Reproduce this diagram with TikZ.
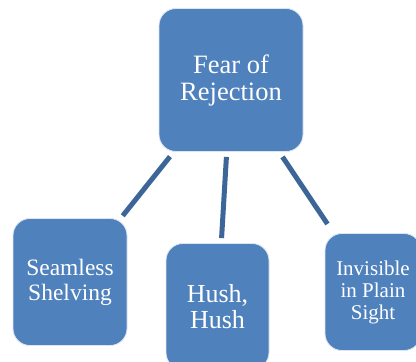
\documentclass[tikz,border=0pt]{standalone}
\usepackage{fontspec}
\setmainfont{Liberation Serif}
\usepackage{tikz}
\usepackage{xcolor}
\usetikzlibrary{positioning,calc}

\definecolor{boxblue}{HTML}{4F81BD}
\definecolor{lineblue}{HTML}{3D6698}

\begin{document}
\begin{tikzpicture}[
    x=1pt, y=-1pt,
    box/.style={draw=white!80!boxblue, line width=0.8pt, fill=boxblue, rounded corners=17pt,
      text=white, align=center, inner sep=2pt},
    link/.style={draw=lineblue, line width=5pt}
  ]
    \useasboundingbox (0,0) rectangle (416,362);
    \clip (0,0) rectangle (416,362);

    \node[box, minimum width=144pt, minimum height=143pt, font=\fontsize{26.5}{27}\selectfont] (fear) at (231,80) {Fear of\\Rejection};
    \node[box, minimum width=114pt, minimum height=127pt, font=\fontsize{23.5}{25}\selectfont] (seamless) at (70,282) {Seamless\\Shelving};
    \node[box, minimum width=103pt, minimum height=126pt, font=\fontsize{26}{26}\selectfont] (hush) at (217.5,306.5) {Hush,\\Hush};
    \node[box, minimum width=96pt, minimum height=117pt, font=\fontsize{21}{22}\selectfont] (invisible) at (373,292) {Invisible\\in Plain\\Sight};

    \draw[link, shorten <=6pt, shorten >=3pt] (fear) -- (seamless);
    \draw[link, shorten <=5pt, shorten >=5pt] (fear) -- (hush);
    \draw[link, shorten <=6pt, shorten >=11pt] (fear) -- (invisible);
  \end{tikzpicture}
\end{document}
